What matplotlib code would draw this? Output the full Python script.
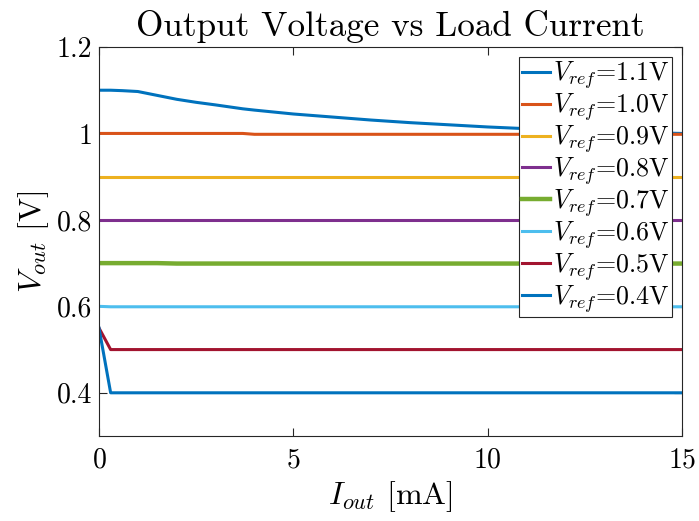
import matplotlib
matplotlib.use('Agg')
import matplotlib.pyplot as plt
from matplotlib.ticker import FuncFormatter

# load current grid (mA)
i_out = [0, 0.3, 0.6, 1, 1.5, 2, 2.5, 3, 3.7, 4, 5, 6, 7, 8, 9, 10, 11, 12, 13, 14, 15]

v_11 = [1.100, 1.100, 1.099, 1.097, 1.088, 1.079, 1.072, 1.066, 1.057, 1.054, 1.045,
        1.038, 1.031, 1.025, 1.020, 1.015, 1.011, 1.008, 1.005, 1.002, 1.000]
v_10 = [1.000] * 9 + [0.998] * 12
v_09 = [0.900] * len(i_out)
v_08 = [0.800] * len(i_out)
v_07 = [0.700] * 5 + [0.699] * 16
v_06 = [0.600] + [0.599] * 20
v_05 = [0.550, 0.500] + [0.500] * (len(i_out) - 2)
v_04 = [0.550, 0.400] + [0.400] * (len(i_out) - 2)

series = [v_11, v_10, v_09, v_08, v_07, v_06, v_05, v_04]
labels = ['1.1', '1.0', '0.9', '0.8', '0.7', '0.6', '0.5', '0.4']
colors = ['#0072BD', '#D95319', '#EDB120', '#7E2F8E', '#77AC30', '#4DBEEE', '#A2142F', '#0072BD']
widths = [2.2, 2.2, 2.2, 2.2, 3.2, 2.2, 2.2, 2.2]

plt.rcParams['font.family'] = 'cmr10'
plt.rcParams['mathtext.fontset'] = 'cm'
plt.rcParams['axes.formatter.use_mathtext'] = True

fig = plt.figure(figsize=(6.99, 5.21), dpi=100)
ax = fig.add_axes([0.1416, 0.1631, 0.8341, 0.7467])

for v, lab, c, w in zip(series, labels, colors, widths):
    ax.plot(i_out, v, color=c, lw=w, label=r'$V_{ref}$=' + lab + 'V')

ax.set_xlim(0, 15)
ax.set_ylim(0.3, 1.2)
ax.set_xticks([0, 5, 10, 15])
ax.set_yticks([0.4, 0.6, 0.8, 1.0, 1.2])
ax.yaxis.set_major_formatter(FuncFormatter(lambda v, p: '%g' % v))
ax.tick_params(direction='in', top=True, right=True, labelsize=20, length=6,
               color='#262626', width=0.8)
ax.tick_params(axis='x', pad=8)
ax.tick_params(axis='y', pad=5)
for s in ax.spines.values():
    s.set_color('#262626')
    s.set_linewidth(0.8)

ax.set_title('Output Voltage vs Load Current', fontsize=25.3, pad=8)
ax.set_xlabel(r'$I_{out}$ [mA]', fontsize=23, labelpad=4)
ax.set_ylabel(r'$V_{out}$ [V]', fontsize=23, labelpad=4)

leg = ax.legend(loc='upper right', bbox_to_anchor=(0.983, 0.975), fontsize=18.7,
                handlelength=1.1, handletextpad=0.1, labelspacing=0.0,
                borderpad=0.1, borderaxespad=0, fancybox=False, framealpha=1)
leg.get_frame().set_edgecolor('#262626')
leg.get_frame().set_linewidth(0.8)

fig.savefig('out.png', dpi=100)
